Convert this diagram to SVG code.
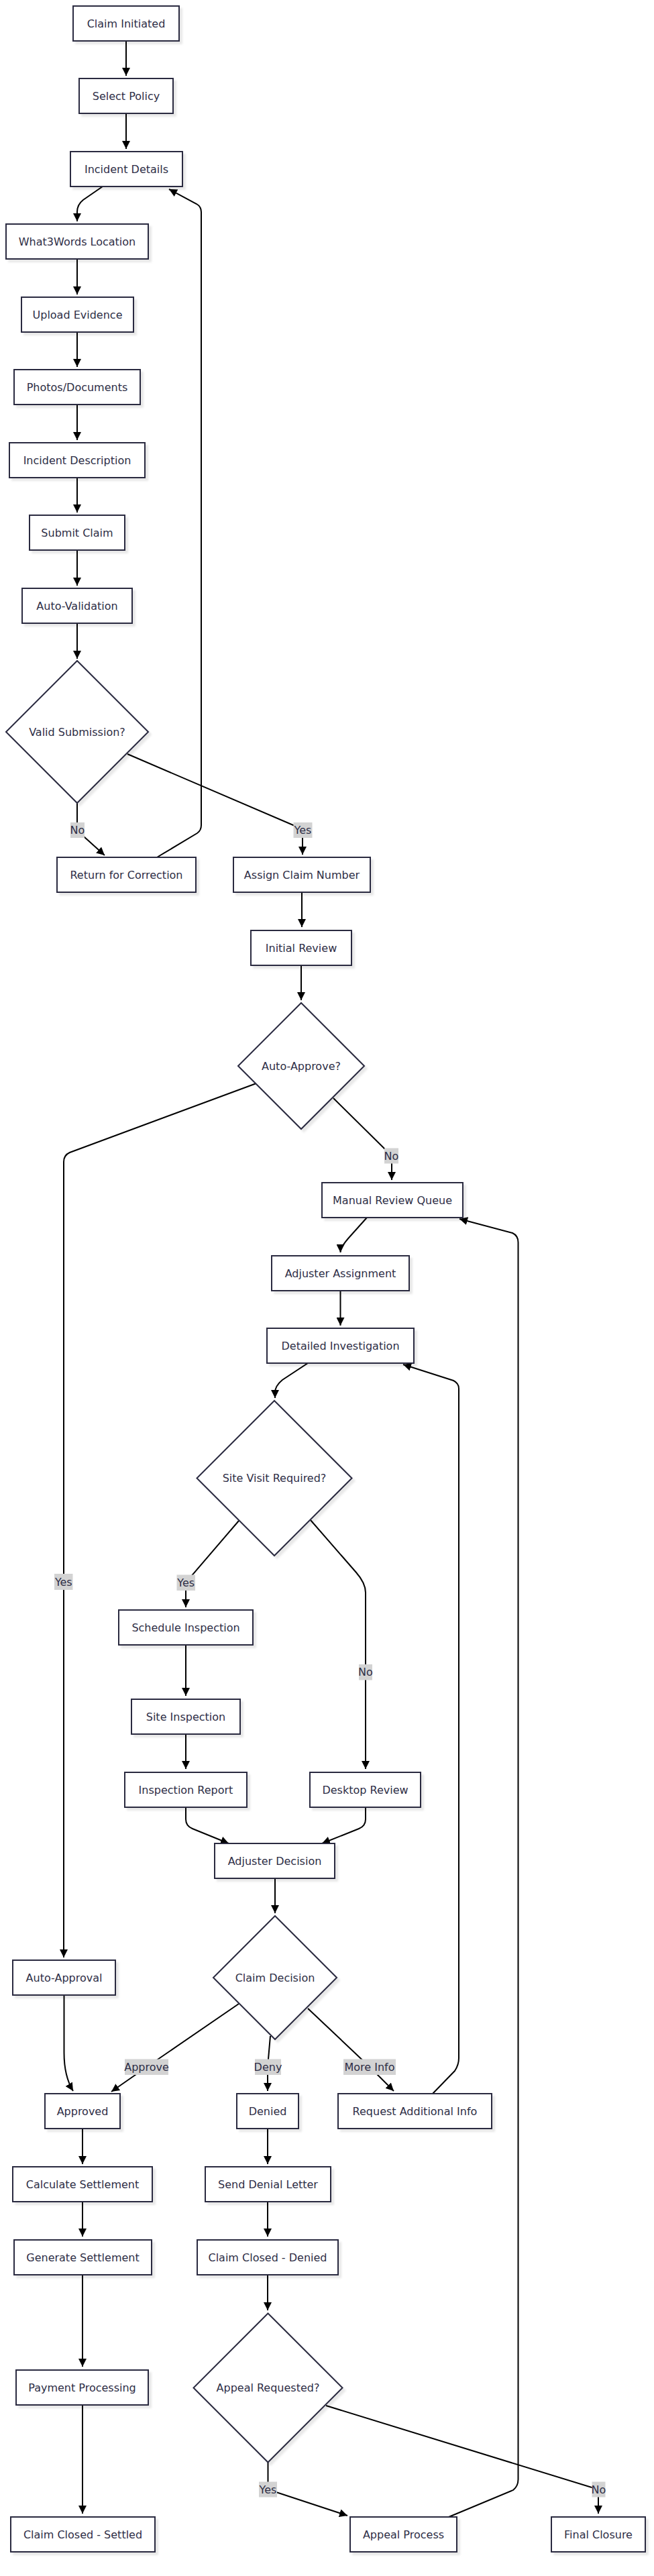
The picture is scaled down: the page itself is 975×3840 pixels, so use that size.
<svg xmlns="http://www.w3.org/2000/svg" width="975" height="3840" viewBox="0 0 975 3840">
<defs>
<style>
.n rect,.n polygon{fill:#fff;stroke:#2b2b40;stroke-width:2;filter:url(#sh)}
.n text{font-family:"DejaVu Sans",sans-serif;font-size:16px;fill:#2e2e46;text-anchor:middle;dominant-baseline:central}
.e path{fill:none;stroke:#000;stroke-width:2;marker-end:url(#ah)}
.l rect{fill:#d3d3d3}
.l text{font-family:"DejaVu Sans",sans-serif;font-size:16px;fill:#2e2e46;text-anchor:middle;dominant-baseline:central}
</style>
<filter id="sh" x="-10%" y="-10%" width="130%" height="140%">
<feDropShadow dx="4" dy="4" stdDeviation="1.5" flood-color="#000" flood-opacity="0.09"/>
</filter>
<marker id="ah" viewBox="0 0 10 10" refX="10" refY="5" markerWidth="12" markerHeight="12" markerUnits="userSpaceOnUse" orient="auto">
<path d="M0,0 L10,5 L0,10 z" fill="#000"/>
</marker>
</defs>
<rect width="975" height="3840" fill="#fff"/>
<g id="connectors" class="e">
<path d="M188,61 L188,113"/>
<path d="M188,169 L188,222"/>
<path d="M153,278 L124,298 Q115,305 115,316 L115,330"/>
<path d="M115,386 L115,439"/>
<path d="M115,495 L115,547"/>
<path d="M115,603 L115,656"/>
<path d="M115,712 L115,764"/>
<path d="M115,820 L115,873"/>
<path d="M115,929 L115,982"/>
<path d="M115,1197 L115,1238 L156,1275"/>
<path d="M190,1124 L451,1236 L451,1274"/>
<path d="M234,1278 L294,1242 Q300,1238 300,1230 L300,316 Q300,308 293,304 L252,282"/>
<path d="M450,1330 L450,1382"/>
<path d="M449,1439 L449,1491"/>
<path d="M382,1615 L104,1718 Q95,1722 95,1732 L95,2918"/>
<path d="M497,1637 L584,1723 L584,1759"/>
<path d="M547,1815 L521,1844 Q507.5,1859 507.5,1867"/>
<path d="M507.5,1924 L507.5,1976"/>
<path d="M459,2032 L421,2057 Q410,2066 410,2076 L410,2084"/>
<path d="M356,2267 L277,2359 L277,2396"/>
<path d="M463,2266 L531,2344 Q545,2360 545,2374 L545,2637"/>
<path d="M277,2452 L277,2528"/>
<path d="M277,2585 L277,2637"/>
<path d="M277,2694 L277,2712 Q277,2722 287,2726 L341,2748"/>
<path d="M545,2694 L545,2712 Q545,2722 535,2726 L480,2748"/>
<path d="M410,2800 L410,2852"/>
<path d="M356,2987 L219,3081 L166,3118"/>
<path d="M403,3035 L399,3081 L399,3117"/>
<path d="M459,2994 L551,3081 L587,3117"/>
<path d="M645,3121 L678,3087 Q684,3078 684,3068 L684,2070 Q684,2062 676,2058 L601,2034"/>
<path d="M95.5,2974 L95.5,3060 Q95.5,3095 109,3117"/>
<path d="M123,3173 L123,3226"/>
<path d="M123,3282 L123,3334"/>
<path d="M123,3391 L123,3528"/>
<path d="M123,3586 L123,3747"/>
<path d="M399,3173 L399,3226"/>
<path d="M399,3282 L399,3334"/>
<path d="M399,3391 L399,3444"/>
<path d="M399.5,3670 L399.5,3711 L518,3750"/>
<path d="M486,3586 L892,3711 L892,3747"/>
<path d="M669,3752 L765,3712 Q772.5,3706 772.5,3696 L772.5,1852 Q772.5,1842 764,1838 L685,1817"/>
</g>
<g id="edge-labels" class="l">
<g><rect x="105" y="1226" width="21" height="23"/><text x="115.5" y="1237.5">No</text></g>
<g><rect x="437.5" y="1226" width="28" height="23"/><text x="451.5" y="1237.5">Yes</text></g>
<g><rect x="573" y="1711.5" width="21" height="23"/><text x="583.5" y="1723">No</text></g>
<g><rect x="81" y="2346" width="27.5" height="24"/><text x="94.8" y="2358">Yes</text></g>
<g><rect x="263.5" y="2347.5" width="27.5" height="23.5"/><text x="277.2" y="2359.2">Yes</text></g>
<g><rect x="535" y="2481" width="20" height="23.5"/><text x="545" y="2492.8">No</text></g>
<g><rect x="186" y="3069.5" width="65" height="23.5"/><text x="218.5" y="3081.2">Approve</text></g>
<g><rect x="380" y="3069.5" width="39" height="23.5"/><text x="399.5" y="3081.2">Deny</text></g>
<g><rect x="512" y="3069.5" width="78" height="23.5"/><text x="551" y="3081.2">More Info</text></g>
<g><rect x="386" y="3699.5" width="27" height="23"/><text x="399.5" y="3711">Yes</text></g>
<g><rect x="882.5" y="3699.5" width="20" height="23"/><text x="892.5" y="3711">No</text></g>
</g>
<g id="claim-initiated" class="n"><rect x="109" y="9" width="158" height="52"/><text x="188" y="35">Claim Initiated</text></g>
<g id="select-policy" class="n"><rect x="118" y="117" width="140" height="52"/><text x="188" y="143">Select Policy</text></g>
<g id="incident-details" class="n"><rect x="105" y="226" width="167" height="52"/><text x="188.5" y="252">Incident Details</text></g>
<g id="what3words" class="n"><rect x="9" y="334" width="212" height="52"/><text x="115" y="360">What3Words Location</text></g>
<g id="upload-evidence" class="n"><rect x="32" y="443" width="167" height="52"/><text x="115.5" y="469">Upload Evidence</text></g>
<g id="photos-documents" class="n"><rect x="21" y="551" width="188" height="52"/><text x="115" y="577">Photos/Documents</text></g>
<g id="incident-description" class="n"><rect x="14" y="660" width="202" height="52"/><text x="115" y="686">Incident Description</text></g>
<g id="submit-claim" class="n"><rect x="44" y="768" width="142" height="52"/><text x="115" y="794">Submit Claim</text></g>
<g id="auto-validation" class="n"><rect x="33" y="877" width="164" height="52"/><text x="115" y="903">Auto-Validation</text></g>
<g id="valid-submission" class="n"><polygon points="115,985 221,1091 115,1197 9,1091"/><text x="115" y="1091">Valid Submission?</text></g>
<g id="return-for-correction" class="n"><rect x="85" y="1278" width="207" height="52"/><text x="188.5" y="1304">Return for Correction</text></g>
<g id="assign-claim-number" class="n"><rect x="348" y="1278" width="204" height="52"/><text x="450" y="1304">Assign Claim Number</text></g>
<g id="initial-review" class="n"><rect x="374" y="1387" width="150" height="52"/><text x="449" y="1413">Initial Review</text></g>
<g id="auto-approve" class="n"><polygon points="449,1495 543,1589 449,1683 355,1589"/><text x="449" y="1589">Auto-Approve?</text></g>
<g id="manual-review-queue" class="n"><rect x="480" y="1763" width="210" height="52"/><text x="585" y="1789">Manual Review Queue</text></g>
<g id="adjuster-assignment" class="n"><rect x="405" y="1872" width="205" height="52"/><text x="507.5" y="1898">Adjuster Assignment</text></g>
<g id="detailed-investigation" class="n"><rect x="398" y="1980" width="219" height="52"/><text x="507.5" y="2006">Detailed Investigation</text></g>
<g id="site-visit-required" class="n"><polygon points="409,2088 524.5,2203.5 409,2319 293.5,2203.5"/><text x="409" y="2203.5">Site Visit Required?</text></g>
<g id="schedule-inspection" class="n"><rect x="177" y="2400" width="200" height="52"/><text x="277" y="2426">Schedule Inspection</text></g>
<g id="site-inspection" class="n"><rect x="196" y="2533" width="162" height="52"/><text x="277" y="2559">Site Inspection</text></g>
<g id="inspection-report" class="n"><rect x="186" y="2642" width="182" height="52"/><text x="277" y="2668">Inspection Report</text></g>
<g id="desktop-review" class="n"><rect x="462" y="2642" width="165" height="52"/><text x="544.5" y="2668">Desktop Review</text></g>
<g id="adjuster-decision" class="n"><rect x="320" y="2748" width="179" height="52"/><text x="409.5" y="2774">Adjuster Decision</text></g>
<g id="claim-decision" class="n"><polygon points="410,2856 502,2948 410,3040 318,2948"/><text x="410" y="2948">Claim Decision</text></g>
<g id="auto-approval" class="n"><rect x="19" y="2922" width="153" height="52"/><text x="95.5" y="2948">Auto-Approval</text></g>
<g id="approved" class="n"><rect x="67" y="3121" width="112" height="52"/><text x="123" y="3147">Approved</text></g>
<g id="denied" class="n"><rect x="353" y="3121" width="92" height="52"/><text x="399" y="3147">Denied</text></g>
<g id="request-additional-info" class="n"><rect x="504" y="3121" width="229" height="52"/><text x="618.5" y="3147">Request Additional Info</text></g>
<g id="calculate-settlement" class="n"><rect x="19" y="3230" width="208" height="52"/><text x="123" y="3256">Calculate Settlement</text></g>
<g id="generate-settlement" class="n"><rect x="21" y="3339" width="205" height="52"/><text x="123.5" y="3365">Generate Settlement</text></g>
<g id="payment-processing" class="n"><rect x="24" y="3533" width="197" height="52"/><text x="122.5" y="3559">Payment Processing</text></g>
<g id="claim-closed-settled" class="n"><rect x="16" y="3752" width="215" height="52"/><text x="123.5" y="3778">Claim Closed - Settled</text></g>
<g id="send-denial-letter" class="n"><rect x="306" y="3230" width="187" height="52"/><text x="399.5" y="3256">Send Denial Letter</text></g>
<g id="claim-closed-denied" class="n"><rect x="294" y="3339" width="210" height="52"/><text x="399" y="3365">Claim Closed - Denied</text></g>
<g id="appeal-requested" class="n"><polygon points="399.5,3448.5 510.5,3559.5 399.5,3670.5 288.5,3559.5"/><text x="399.5" y="3559.5">Appeal Requested?</text></g>
<g id="appeal-process" class="n"><rect x="522" y="3752" width="159" height="52"/><text x="601.5" y="3778">Appeal Process</text></g>
<g id="final-closure" class="n"><rect x="822" y="3752" width="140" height="52"/><text x="892" y="3778">Final Closure</text></g>
</svg>
